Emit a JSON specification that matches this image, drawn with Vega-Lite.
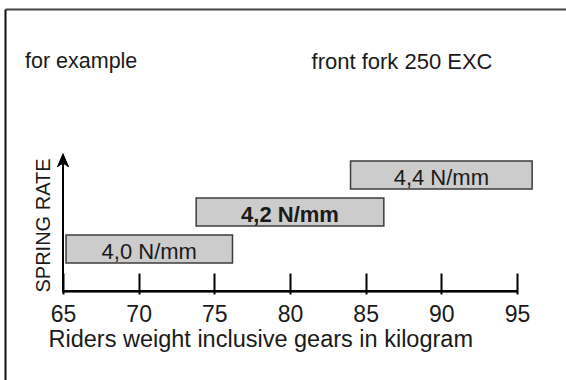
{
  "$schema": "https://vega.github.io/schema/vega-lite/v6.json",
  "width": 561,
  "height": 371,
  "autosize": {"type": "none"},
  "padding": {"left": 5, "top": 9, "right": 0, "bottom": 0},
  "background": "white",
  "config": {
    "font": "Liberation Sans",
    "view": {"stroke": null},
    "axis": {"grid": false}
  },
  "title": {
    "text": "for example",
    "anchor": "start",
    "frame": "group",
    "orient": "top",
    "offset": 0,
    "baseline": "alphabetic",
    "dx": 20,
    "dy": 80,
    "fontSize": 21.5,
    "fontWeight": "normal",
    "font": "Liberation Sans",
    "color": "#1a1a1a"
  },
  "data": {
    "values": [
      {"rate": 4.0, "label": "4,0 N/mm", "from": 65.2, "to": 76.2, "standard": false},
      {"rate": 4.2, "label": "4,2 N/mm", "from": 73.8, "to": 86.2, "standard": true},
      {"rate": 4.4, "label": "4,4 N/mm", "from": 84.0, "to": 96.0, "standard": false}
    ]
  },
  "resolve": {"axis": {"x": "independent", "y": "independent"}},
  "layer": [
    {
      "mark": {"type": "bar", "size": 28, "fill": "#cccccc", "stroke": "#3c3c3c", "strokeWidth": 1.5},
      "encoding": {
        "x": {
          "field": "from",
          "type": "quantitative",
          "scale": {"domain": [61.1673, 98.238], "nice": false, "zero": false},
          "axis": {
            "orient": "bottom",
            "offset": -107,
            "values": [65, 70, 75, 80, 85, 90, 95],
            "domain": false,
            "ticks": true,
            "tickSize": 21,
            "tickWidth": 2,
            "tickColor": "black",
            "labelFontSize": 23,
            "labelColor": "#1a1a1a",
            "labelPadding": 9,
            "labelFlush": false,
            "title": "Riders weight inclusive gears in kilogram",
            "titleFontSize": 23.5,
            "titleFontWeight": "normal",
            "titleColor": "#1a1a1a",
            "titleAnchor": "start",
            "titleAlign": "left",
            "titleBaseline": "alphabetic",
            "titleX": 43,
            "titleY": 73
          }
        },
        "x2": {"field": "to"},
        "y": {
          "field": "rate",
          "type": "quantitative",
          "title": "SPRING RATE",
          "scale": {"domain": [3.31842, 5.27105], "nice": false, "zero": false},
          "axis": {
            "orient": "left",
            "domain": true,
            "domainColor": "#111111",
            "domainWidth": 2,
            "ticks": false,
            "labels": false,
            "title": "SPRING RATE",
            "titleFontSize": 20,
            "titleFontWeight": "normal",
            "titleColor": "#1a1a1a",
            "titleAngle": -90,
            "titleAlign": "left",
            "titleAnchor": "start",
            "titleBaseline": "alphabetic",
            "titleX": 44,
            "titleY": 283
          }
        }
      }
    },
    {
      "transform": [
        {"filter": "!datum.standard"},
        {"fold": ["from", "to"], "as": ["end", "kg"]}
      ],
      "mark": {"type": "text", "fontSize": 22, "fontWeight": "normal", "baseline": "alphabetic", "dy": 10, "align": "center", "color": "#1a1a1a"},
      "encoding": {
        "x": {"aggregate": "mean", "field": "kg", "type": "quantitative", "axis": null},
        "y": {"field": "rate", "type": "quantitative", "axis": null},
        "text": {"field": "label", "type": "nominal"}
      }
    },
    {
      "transform": [
        {"filter": "datum.standard"},
        {"fold": ["from", "to"], "as": ["end", "kg"]}
      ],
      "mark": {"type": "text", "fontSize": 22, "fontWeight": "bold", "baseline": "alphabetic", "dy": 10, "align": "center", "color": "#1a1a1a"},
      "encoding": {
        "x": {"aggregate": "mean", "field": "kg", "type": "quantitative", "axis": null},
        "y": {"field": "rate", "type": "quantitative", "axis": null},
        "text": {"field": "label", "type": "nominal"}
      }
    },
    {
      "mark": {"type": "rule", "strokeWidth": 2, "color": "black", "strokeCap": "square"},
      "encoding": {
        "x": {
          "datum": 65,
          "type": "quantitative",
          "axis": {
            "orient": "top",
            "domain": true,
            "domainColor": "#444444",
            "domainWidth": 2,
            "ticks": false,
            "labels": false,
            "title": "front fork 250 EXC",
            "titleFontSize": 22,
            "titleFontWeight": "normal",
            "titleColor": "#1a1a1a",
            "titleAlign": "right",
            "titleAnchor": "end",
            "titleBaseline": "alphabetic",
            "titleX": 487,
            "titleY": 59
          }
        },
        "x2": {"datum": 95},
        "y": {"datum": 3.771, "type": "quantitative", "axis": null}
      }
    },
    {
      "mark": {"type": "rule", "strokeWidth": 2, "color": "black"},
      "encoding": {
        "x": {"datum": 65, "type": "quantitative", "axis": null},
        "y": {"datum": 3.771, "type": "quantitative", "axis": null},
        "y2": {"datum": 4.46}
      }
    },
    {
      "mark": {"type": "point", "shape": "M0,0L-0.6,1.4L0,1L0.6,1.4Z", "size": 400, "filled": true, "fill": "black", "stroke": null, "opacity": 1},
      "encoding": {
        "x": {"datum": 65, "type": "quantitative", "axis": null},
        "y": {"datum": 4.518, "type": "quantitative", "axis": null}
      }
    }
  ]
}
